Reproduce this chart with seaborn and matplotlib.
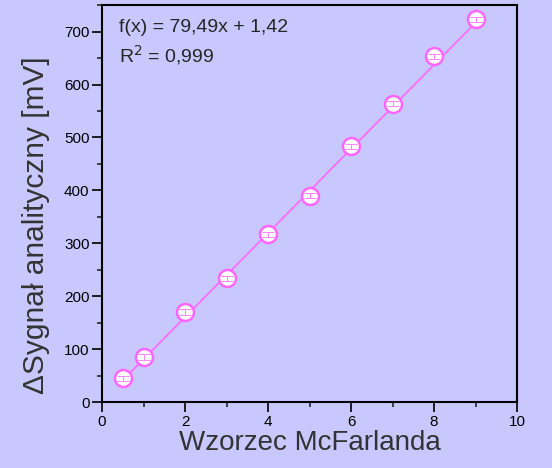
import numpy as np
import pandas as pd
import matplotlib.pyplot as plt
import seaborn as sns
from matplotlib.ticker import MultipleLocator

# dane z wykresu
wzorzec = [0.5, 1, 2, 3, 4, 5, 6, 7, 8, 9]
sygnal = [45, 85, 170, 234, 317, 390, 483, 564, 653, 723]
slope = 79.49
intercept = 1.42

df = pd.DataFrame({'x': wzorzec, 'y': sygnal})
fit = pd.DataFrame({'x': [wzorzec[0], wzorzec[-1]]})
fit['y'] = slope * fit['x'] + intercept

sns.set_style('ticks')
plt.rcParams['font.family'] = ['Liberation Sans', 'DejaVu Sans']

bg = '#C8C8FF'
pink = '#FF66FF'

fig = plt.figure(figsize=(5.52, 4.68), dpi=100, facecolor=bg)
ax = fig.add_axes([0.1848, 0.141, 0.752, 0.848])
ax.set_facecolor(bg)

sns.lineplot(data=fit, x='x', y='y', color=pink, lw=1.2, ax=ax, zorder=2)
sns.scatterplot(data=df, x='x', y='y', s=150, color='white', edgecolor=pink,
                linewidth=1.8, ax=ax, zorder=3)
# drobne słupki błędów wewnątrz markerów
ax.errorbar(wzorzec, sygnal, yerr=5, fmt='none', ecolor=pink, elinewidth=0.7,
            capsize=4, capthick=0.7, zorder=4, alpha=0.8)

ax.set_xlim(0, 10)
ax.set_ylim(0, 750)
ax.xaxis.set_major_locator(MultipleLocator(2))
ax.xaxis.set_minor_locator(MultipleLocator(1))
ax.yaxis.set_major_locator(MultipleLocator(100))
ax.yaxis.set_minor_locator(MultipleLocator(50))
ax.tick_params(which='major', direction='out', length=7, width=1.2, labelsize=11,
               colors='black', pad=2)
ax.tick_params(which='minor', direction='out', length=3.5, width=1.2)
for s in ax.spines.values():
    s.set_linewidth(1.5)
    s.set_color('black')

ax.set_xlabel('Wzorzec McFarlanda', fontsize=20, color='#333333', labelpad=1)
ax.set_ylabel('ΔSygnał analityczny [mV]', fontsize=21.5, color='#333333')
ax.yaxis.set_label_coords(-0.125, 0.446)

ax.text(0.42, 707, 'f(x) = 79,49x + 1,42', fontsize=14, va='center')
ax.text(0.42, 656, 'R$^2$ = 0,999', fontsize=14, va='center')

fig.savefig('out.png', dpi=100, facecolor=bg)
